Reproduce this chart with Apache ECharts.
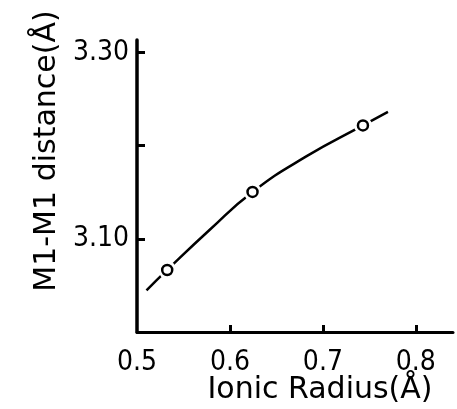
<!DOCTYPE html>
<html>
<head>
<meta charset="utf-8">
<script src="https://cdn.jsdelivr.net/npm/echarts@6/dist/echarts.min.js"></script>
<style>
  html, body { margin: 0; padding: 0; background: #fff; }
  #chart { width: 457px; height: 409px; }
</style>
</head>
<body>
<div id="chart"></div>
<script>
// measured points (open circles)
var radius = [0.5325, 0.6243, 0.7431];
var distance = [3.0666, 3.1504, 3.2218];
// fitted curve
var curveX = [0.5102, 0.5325, 0.578, 0.6243, 0.6821, 0.7431, 0.770];
var curveY = [3.0446, 3.0666, 3.1095, 3.1504, 3.1885, 3.2218, 3.2363];
var xTicks = [0.6, 0.7, 0.8];
var xLabels = [0.5, 0.6, 0.7, 0.8];
var yTicks = [3.1, 3.2, 3.3];
var yLabels = [3.1, 3.3];

var tickFont = 'DejaVu Sans Condensed';
var nameFont = 'DejaVu Sans';

var chart = echarts.init(document.getElementById('chart'));
var option = {
  animation: false,
  grid: { left: 137, right: 4, top: 40, bottom: 77, outerBoundsMode: 'none' },
  xAxis: {
    type: 'value',
    min: 0.5,
    max: 0.84,
    name: 'Ionic Radius(Å)',
    nameLocation: 'middle',
    nameGap: 43,
    nameMoveOverlap: false,
    nameTextStyle: { color: '#000', fontFamily: nameFont, fontSize: 30, padding: [0, 0, 0, 50] },
    splitLine: { show: false },
    axisLine: { lineStyle: { color: '#000', width: 3 } },
    axisTick: { inside: true, length: 7, lineStyle: { color: '#000', width: 3 }, customValues: xTicks },
    axisLabel: {
      color: '#000', fontFamily: tickFont, fontSize: 28, margin: 17,
      customValues: xLabels,
      formatter: function (v) { return v.toFixed(1); }
    }
  },
  yAxis: {
    type: 'value',
    min: 3.0,
    max: 3.3135,
    name: 'M1-M1 distance(Å)',
    nameLocation: 'middle',
    nameGap: 72,
    nameTextStyle: { color: '#000', fontFamily: nameFont, fontSize: 30, padding: [0, 0, 0, 70] },
    splitLine: { show: false },
    axisLine: { lineStyle: { color: '#000', width: 3.5 } },
    axisTick: { inside: true, length: 8, lineStyle: { color: '#000', width: 3 }, customValues: yTicks },
    axisLabel: {
      color: '#000', fontFamily: tickFont, fontSize: 28, margin: 8,
      customValues: yLabels,
      formatter: function (v) { return v.toFixed(2); }
    }
  },
  series: [
    {
      type: 'line',
      data: curveX.map(function (x, i) { return [x, curveY[i]]; }),
      smooth: 0.5,
      symbol: 'none',
      lineStyle: { color: '#000', width: 2.5 },
      z: 2
    },
    {
      // white halo that breaks the curve around each circle
      type: 'scatter',
      data: radius.map(function (x, i) { return [x, distance[i]]; }),
      symbol: 'circle',
      symbolSize: 18,
      itemStyle: { color: '#fff', opacity: 1 },
      z: 3
    },
    {
      type: 'scatter',
      data: radius.map(function (x, i) { return [x, distance[i]]; }),
      symbol: 'circle',
      symbolSize: 10,
      itemStyle: { color: '#fff', borderColor: '#000', borderWidth: 2.5, opacity: 1 },
      z: 4
    }
  ]
};
chart.setOption(option);
</script>
</body>
</html>
